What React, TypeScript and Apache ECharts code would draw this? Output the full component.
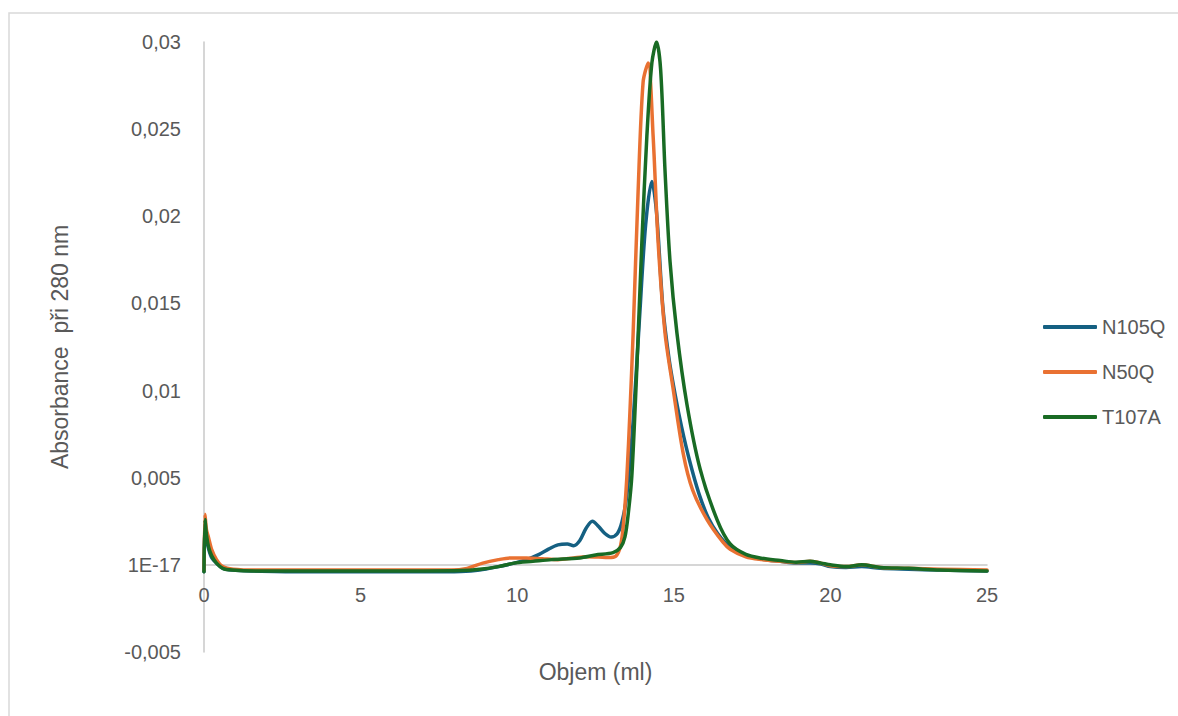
import React, { useEffect, useRef } from "react";
import * as echarts from "echarts";

const seriesNames = ["N105Q", "N50Q", "T107A"];
const seriesColors = ["#156082", "#E97132", "#196B24"];

const xTicks = [0, 5, 10, 15, 20, 25];
const yTicks = [-0.005, 0, 0.005, 0.01, 0.015, 0.02, 0.025, 0.03];

const n105qVolume = [0, 0.03, 0.08, 0.15, 0.25, 0.4, 0.6, 0.9, 1.5, 3, 5, 7, 8.2, 8.8, 9.4, 9.9, 10.3, 10.7, 11.0, 11.3, 11.6, 11.8, 12.0, 12.2, 12.4, 12.6, 12.8, 13.0, 13.2, 13.35, 13.5, 13.7, 13.9, 14.1, 14.3, 14.45, 14.65, 14.85, 15.05, 15.25, 15.5, 15.8, 16.1, 16.4, 16.8, 17.3, 17.8, 18.4, 18.9, 19.35, 19.7, 20.0, 20.5, 21.0, 21.6, 22.5, 23.5, 25];
const n105qAbs = [-0.0004, 0.0024, 0.0015, 0.0009, 0.0004, 0.0001, -0.0002, -0.0003, -0.00035, -0.0004, -0.0004, -0.0004, -0.00038, -0.0003, -0.0001, 0.0001, 0.0003, 0.0006, 0.0009, 0.00115, 0.0012, 0.0011, 0.0014, 0.0021, 0.0025, 0.0022, 0.0018, 0.0016, 0.0018, 0.0025, 0.004, 0.0082, 0.014, 0.0195, 0.022, 0.0202, 0.0148, 0.0118, 0.0097, 0.0079, 0.006, 0.0041, 0.0027, 0.0018, 0.001, 0.00055, 0.00033, 0.0002, 0.0001, 0.0001, 0.00005, -0.0001, -0.00015, -0.0001, -0.0002, -0.00025, -0.0003, -0.00035];

const n50qVolume = [0, 0.03, 0.08, 0.14, 0.25, 0.4, 0.6, 0.93, 1.7, 4, 7, 7.9, 8.4, 8.9, 9.4, 9.8, 10.3, 10.8, 11.3, 11.8, 12.2, 12.6, 12.9, 13.15, 13.3, 13.4, 13.5, 13.6, 13.7, 13.86, 14.02, 14.18, 14.34, 14.5, 14.72, 14.97, 15.3, 15.6, 16.06, 16.57, 16.8, 17.3, 17.8, 18.4, 18.9, 19.35, 19.7, 20.0, 20.5, 21.0, 21.6, 22.5, 23.5, 25];
const n50qAbs = [-0.0003, 0.0029, 0.002, 0.0016, 0.00086, 0.0003, -0.0001, -0.00025, -0.0003, -0.0003, -0.0003, -0.0003, -0.0002, 0.0001, 0.0003, 0.0004, 0.0004, 0.00035, 0.0003, 0.0004, 0.00047, 0.00045, 0.00042, 0.0005, 0.0011, 0.0025, 0.005, 0.0088, 0.0132, 0.0214, 0.0277, 0.0288, 0.0246, 0.0185, 0.0133, 0.0102, 0.0064, 0.0043, 0.0026, 0.0013, 0.0009, 0.00046, 0.0003, 0.0002, 0.00013, 0.0002, 0.0001, -0.00005, -0.0001, 0.0, -0.00015, -0.0002, -0.00025, -0.0003];

const t107aVolume = [0, 0.03, 0.08, 0.15, 0.25, 0.4, 0.6, 0.9, 1.7, 4, 7, 8.2, 8.8, 9.4, 9.9, 10.5, 11.1, 12.0, 12.5, 13.06, 13.3, 13.44, 13.55, 13.66, 13.82, 13.98, 14.14, 14.3, 14.45, 14.58, 14.72, 14.88, 15.1, 15.42, 15.84, 16.38, 16.8, 17.3, 17.8, 18.4, 18.9, 19.35, 19.7, 20.0, 20.5, 21.0, 21.6, 22.5, 23.5, 25];
const t107aAbs = [-0.0004, 0.0026, 0.0017, 0.001, 0.0005, 0.0001, -0.0002, -0.0003, -0.00035, -0.00035, -0.00035, -0.00033, -0.00025, -0.0001, 0.0001, 0.0002, 0.0003, 0.0004, 0.00057, 0.0007, 0.001, 0.0016, 0.003, 0.0051, 0.0113, 0.0185, 0.0246, 0.0288, 0.03, 0.0284, 0.0226, 0.0174, 0.0133, 0.0092, 0.0055, 0.0026, 0.0012, 0.0006, 0.00038, 0.00025, 0.00015, 0.0002, 0.0001, 0.0, -0.0001, 0.0, -0.00015, -0.0002, -0.0003, -0.00035];

const xTitle = "Objem (ml)";
const yTitle = "Absorbance  při 280 nm";

const FONT = "'Liberation Sans', Arial, sans-serif";
const TEXT_COLOR = "#595959";
const AXIS_COLOR = "#c8c8c8";

const GRID_TOP = 42;
const GRID_BOTTOM = 64;
const CHART_H = 716;

function pairs(xs: number[], ys: number[]) {
  return xs.map((x, i) => [x, ys[i]]);
}

function fmtY(v: number) {
  if (Math.abs(v) < 1e-12) return "1E-17";
  return String(parseFloat(v.toFixed(6))).replace(".", ",");
}

export default function App() {
  const ref = useRef<HTMLDivElement>(null);
  useEffect(() => {
    if (!ref.current) return;
    const chart = echarts.init(ref.current, null, { renderer: "svg" });
    const datasets = [
      pairs(n105qVolume, n105qAbs),
      pairs(n50qVolume, n50qAbs),
      pairs(t107aVolume, t107aAbs),
    ];
    const yMin = yTicks[0];
    const yMax = yTicks[yTicks.length - 1];
    const gridH = CHART_H - GRID_TOP - GRID_BOTTOM;
    // distance from grid bottom up to the zero line, derived from the y scale
    const zeroOffset = (gridH * (0 - yMin)) / (yMax - yMin);
    chart.setOption({
      animation: false,
      backgroundColor: "#ffffff",
      textStyle: { fontFamily: FONT },
      graphic: [
        {
          type: "rect",
          silent: true,
          z: -10,
          shape: { x: 9, y: 13, width: 1300, height: 900 },
          style: { fill: "none", stroke: "#d9d9d9", lineWidth: 1.5 },
        },
      ],
      grid: {
        left: 204,
        right: 191,
        top: GRID_TOP,
        bottom: GRID_BOTTOM,
        containLabel: false,
        outerBoundsMode: "none",
      },
      legend: {
        orient: "vertical",
        left: 1038,
        top: 312,
        itemWidth: 54,
        itemHeight: 4,
        itemGap: 25,
        icon: "roundRect",
        data: seriesNames,
        textStyle: { fontSize: 20, color: TEXT_COLOR, fontFamily: FONT },
      },
      xAxis: {
        type: "value",
        min: xTicks[0],
        max: xTicks[xTicks.length - 1],
        interval: xTicks[1] - xTicks[0],
        name: xTitle,
        nameLocation: "middle",
        nameGap: 96,
        offset: -zeroOffset,
        nameTextStyle: { fontSize: 23, color: TEXT_COLOR, fontFamily: FONT },
        axisLine: { show: true, onZero: false, lineStyle: { color: AXIS_COLOR, width: 1.5 } },
        axisTick: { show: false },
        splitLine: { show: false },
        axisLabel: { fontSize: 20, color: TEXT_COLOR, margin: 20, fontFamily: FONT },
      },
      yAxis: {
        type: "value",
        min: yMin,
        max: yMax,
        interval: yTicks[1] - yTicks[0],
        name: yTitle,
        nameLocation: "middle",
        nameGap: 133,
        nameTextStyle: { fontSize: 23, color: TEXT_COLOR, fontFamily: FONT },
        axisLine: { show: true, onZero: false, lineStyle: { color: AXIS_COLOR, width: 1.5 } },
        axisTick: { show: false },
        splitLine: { show: false },
        axisLabel: { fontSize: 20, color: TEXT_COLOR, margin: 23, formatter: fmtY, fontFamily: FONT },
      },
      series: seriesNames.map((name, i) => ({
        name,
        type: "line",
        data: datasets[i],
        symbol: "none",
        showSymbol: false,
        smooth: 0.3,
        color: seriesColors[i],
        lineStyle: { width: 3.5, color: seriesColors[i], cap: "round", join: "round" },
      })),
    });
    return () => chart.dispose();
  }, []);
  return (
    <div
      ref={ref}
      style={{ position: "absolute", left: 0, top: 0, width: 1178, height: 716 }}
    />
  );
}
